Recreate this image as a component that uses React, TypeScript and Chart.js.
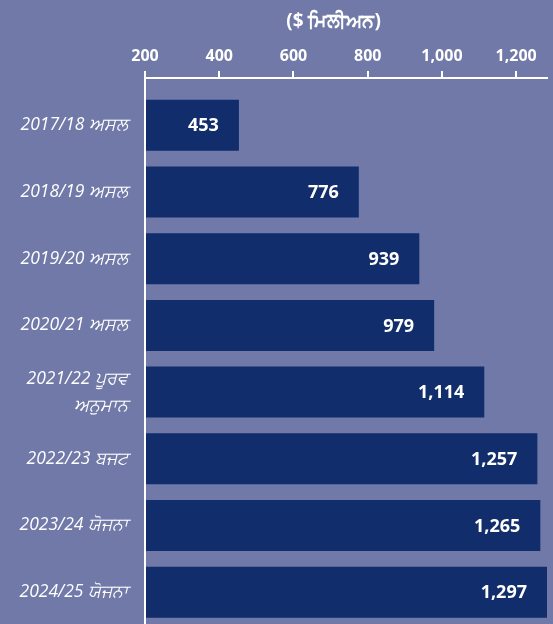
import React, { useEffect, useRef } from 'react';
import { Chart, registerables } from 'chart.js';

Chart.register(...registerables);

// ---- data ----
const CATEGORIES: (string | string[])[] = [
  '2017/18 ਅਸਲ',
  '2018/19 ਅਸਲ',
  '2019/20 ਅਸਲ',
  '2020/21 ਅਸਲ',
  ['2021/22 ਪੂਰਵ', 'ਅਨੁਮਾਨ'],
  '2022/23 ਬਜਟ',
  '2023/24 ਯੋਜਨਾ',
  '2024/25 ਯੋਜਨਾ',
];
const VALUES = [453, 776, 939, 979, 1114, 1257, 1265, 1297];
const X_MIN = 200;
const X_MAX = 1283;
const X_STEP = 200;
const X_LAST_TICK = 1200;
const AXIS_TITLE = '($ ਮਿਲੀਅਨ)';

// ---- style ----
const BG = '#7079a7';
const BAR = '#112d6b';
const WHITE = '#ffffff';
const FONT = "'Open Sans', 'Noto Sans', sans-serif";

export default function App() {
  const ref = useRef<HTMLCanvasElement>(null);

  useEffect(() => {
    document.body.style.margin = '0';
    const canvas = ref.current!;

    const labelPlugin = {
      id: 'barValueLabels',
      afterDatasetsDraw(chart: any) {
        const { ctx, chartArea } = chart;
        const meta = chart.getDatasetMeta(0);
        ctx.save();
        ctx.fillStyle = WHITE;
        ctx.font = `bold 18px ${FONT}`;
        ctx.textAlign = 'right';
        ctx.textBaseline = 'middle';
        meta.data.forEach((el: any, i: number) => {
          const right = Math.min(el.x, chartArea.right);
          ctx.fillText(VALUES[i].toLocaleString('en-US'), right - 20, el.y + 1);
        });
        ctx.restore();
      },
    };

    const titlePlugin = {
      id: 'axisTitle',
      afterDraw(chart: any) {
        const { ctx } = chart;
        const xs = chart.scales.x;
        const cx = (xs.getPixelForValue(X_MIN) + xs.getPixelForValue(X_LAST_TICK)) / 2 + 3;
        ctx.save();
        ctx.fillStyle = WHITE;
        ctx.font = `bold 19px ${FONT}`;
        ctx.textAlign = 'center';
        ctx.textBaseline = 'middle';
        ctx.fillText(AXIS_TITLE, cx, 22);
        ctx.restore();
      },
    };

    const chart = new Chart(canvas, {
      type: 'bar',
      data: {
        datasets: [
          {
            data: VALUES.map((v, i) => ({ x: v, y: i })),
            backgroundColor: BAR,
            borderWidth: 0,
            base: X_MIN,
            barPercentage: 0.85,
            categoryPercentage: 0.9,
            clip: 0,
          } as any,
        ],
      },
      options: {
        indexAxis: 'y',
        animation: false,
        responsive: false,
        devicePixelRatio: 1,
        layout: { padding: { top: 0, right: 6, left: 0, bottom: 0 } },
        plugins: {
          legend: { display: false },
          tooltip: { enabled: false },
        },
        scales: {
          x: {
            type: 'linear',
            position: 'top',
            min: X_MIN,
            max: X_MAX,
            afterFit: (s: any) => {
              s.height = 78;
            },
            ticks: {
              stepSize: X_STEP,
              includeBounds: false,
              color: WHITE,
              padding: 5,
              font: { family: FONT, size: 16, weight: 'bold' },
              callback: (v: any) => Number(v).toLocaleString('en-US'),
            },
            grid: {
              display: true,
              drawOnChartArea: false,
              drawTicks: true,
              tickLength: 7,
              color: WHITE,
              lineWidth: 2,
            },
            border: { display: true, color: WHITE, width: 2 },
          },
          y: {
            type: 'linear',
            reverse: true,
            offset: false,
            min: -0.709,
            max: 7.477,
            z: 1,
            afterFit: (s: any) => {
              s.width = 145;
              s.paddingTop = 0;
              s.paddingBottom = 0;
            },
            afterBuildTicks: (s: any) => {
              s.ticks = CATEGORIES.map((_, i) => ({ value: i }));
            },
            ticks: {
              autoSkip: false,
              color: WHITE,
              padding: 17,
              font: { family: FONT, size: 17.5, style: 'italic', lineHeight: 1.55 },
              callback: (v: any) => CATEGORIES[v as number] ?? '',
            },
            grid: { display: false, drawTicks: false, offset: false },
            border: { display: true, color: WHITE, width: 2 },
          },
        },
      },
      plugins: [labelPlugin, titlePlugin],
    } as any);

    return () => chart.destroy();
  }, []);

  return (
    <div style={{ width: 553, height: 624, background: BG, overflow: 'hidden' }}>
      <canvas ref={ref} width={553} height={624} style={{ display: 'block' }} />
    </div>
  );
}
